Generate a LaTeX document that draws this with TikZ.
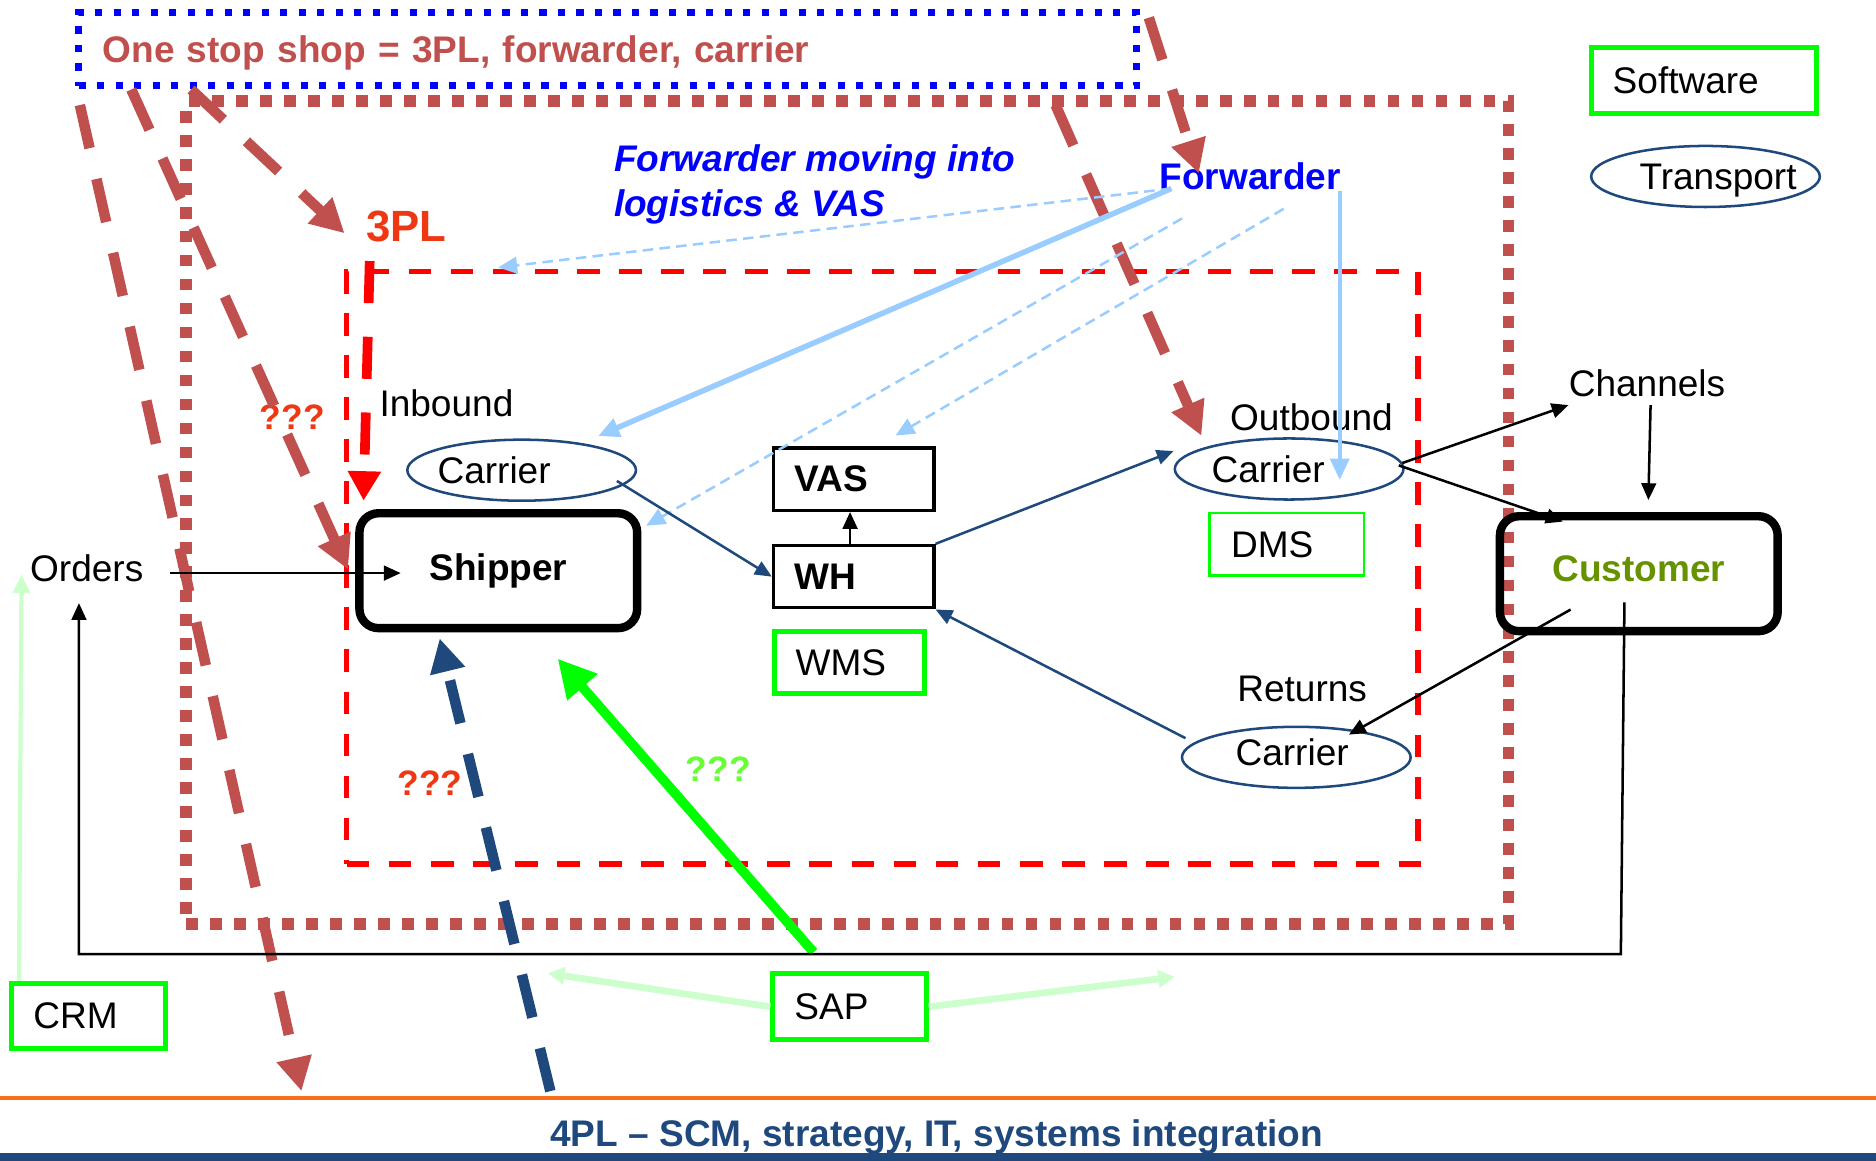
\documentclass[tikz,border=0pt]{standalone}
\usepackage{fontspec}
\setmainfont{Liberation Sans}
\usepackage{tikz}
\usetikzlibrary{positioning,shapes,calc,arrows.meta}
\definecolor{mybrown}{RGB}{192,80,77}
\definecolor{mynavy}{RGB}{31,73,125}
\definecolor{mysky}{RGB}{153,204,255}
\definecolor{mymint}{RGB}{204,255,204}
\definecolor{mylime}{RGB}{0,255,0}
\definecolor{myred}{RGB}{238,56,20}
\definecolor{myolive}{RGB}{102,146,0}
\definecolor{mygreen}{RGB}{102,255,51}
\definecolor{myorange}{RGB}{250,110,25}

\begin{document}
\begin{tikzpicture}[x=0.01cm,y=-0.01cm,
  every node/.style={font=\fontsize{8.8}{10.6}\selectfont,inner sep=1pt},
  swnode/.style={draw=mylime,line width=1.2pt,inner xsep=0.18cm,inner ysep=0pt,align=left},
  whnode/.style={draw,line width=0.8pt,text width=0.98cm,minimum height=0.52cm,inner xsep=0.18cm,inner ysep=0pt,font=\fontsize{8.8}{10.6}\selectfont\bfseries},
  trnode/.style={ellipse,draw=mynavy,line width=0.6pt,minimum width=1.91cm,minimum height=0.51cm,inner sep=0pt},
  ptnode/.style={draw,rounded corners=0.16cm,line width=2pt,minimum width=2.32cm,minimum height=0.96cm,font=\fontsize{8.8}{10.6}\selectfont\bfseries},
  qnode/.style={anchor=west,text=myred,font=\fontsize{8.4}{10}\selectfont\bfseries},
  bigdash/.style={line width=2.5pt,dash pattern=on 10.5pt off 7.5pt,-{Triangle[length=8pt,width=8pt]}},
  flow/.style={mynavy,line width=0.6pt,-{Triangle[length=4pt,width=3.5pt]}},
  link/.style={line width=0.6pt,-{Triangle[length=4pt,width=3.5pt]}},
  skyline/.style={mysky,-{Triangle[length=5pt,width=4.5pt]}},
  skydash/.style={mysky,line width=0.6pt,dash pattern=on 2.5pt off 1.5pt,-{Triangle[length=4.5pt,width=4pt]}}
]
\useasboundingbox (0,0) rectangle (1568,970);

% the zones
\node[draw=blue,line width=1.7pt,dash pattern=on 1.7pt off 2.7pt,minimum width=8.84cm,minimum height=0.61cm,
  text width=8.44cm,inner xsep=0.2cm,inner ysep=0pt,align=left,text=mybrown,text depth=0pt,
  font=\fontsize{8.8}{10.6}\selectfont\bfseries] (oss) at (508,41.3) {One stop shop = 3PL, forwarder, carrier};
\node[draw=mybrown,line width=2.8pt,dash pattern=on 2.8pt off 2.9pt,minimum width=11.045cm,minimum height=6.875cm,inner sep=0pt] (fzone) at (708.25,428.25) {};
\node[draw=red,line width=1.3pt,dash pattern=on 5.4pt off 4.6pt,minimum width=8.95cm,minimum height=4.95cm,inner sep=0pt] (tzone) at (737.5,474.5) {};

% the legend
\node[swnode,text width=1.52cm,minimum height=0.55cm] (sw) at (1424,67.5) {Software};
\node[trnode,label={[xshift=0.105cm,text depth=0pt]center:Transport}] (tr) at (1425.5,147.5) {};

% the parties
\node[ptnode] (shipper) at (416.5,477) {Shipper};
\node[ptnode,text=myolive,text depth=2.6pt] (customer) at (1369.75,479.5) {Customer};

% the carriers
\node[trnode,label={[xshift=-0.23cm]center:Carrier}] (incar) at (436,393) {};
\node[trnode,label={[xshift=-0.175cm]center:Carrier}] (outcar) at (1077.5,392) {};
\node[trnode,label={[xshift=-0.035cm,yshift=0.04cm]center:Carrier}] (retcar) at (1083.5,633) {};

% the warehouse and software
\node[whnode] (vas) at (713.5,400.5) {VAS};
\node[whnode] (wh) at (713.5,482) {WH};
\node[swnode,text width=0.9cm,minimum height=0.52cm] (wms) at (710,554) {WMS};
\node[swnode,line width=0.5pt,text width=0.93cm,minimum height=0.52cm] (dms) at (1075.5,455) {DMS};
\node[swnode,text width=0.92cm,minimum height=0.54cm] (crm) at (74,849) {CRM};
\node[swnode,text width=0.92cm,minimum height=0.55cm] (sap) at (710,841.5) {SAP};

% the labels
\node[anchor=west] (orders) at (21,475) {Orders};
\node[anchor=west] (inb) at (313,337) {Inbound};
\node[anchor=west] (outb) at (1024,349) {Outbound};
\node[anchor=west] (ret) at (1030,576) {Returns};
\node[anchor=west] (channels) at (1307,320) {Channels};
\node[anchor=west,text=blue,font=\fontsize{8.8}{10.6}\selectfont\bfseries] (fwd) at (965,147) {Forwarder};
\node[anchor=west,text=myred,font=\fontsize{10.4}{12}\selectfont\bfseries] (tpl) at (302,189) {3PL};
\node[anchor=west,align=left,text=blue,font=\fontsize{8.8}{10.8}\selectfont\bfseries\itshape] (fwdnote) at (509,154) {Forwarder moving into\\logistics \& VAS};
\node[qnode] (qa) at (213,349) {???};
\node[qnode] (qb) at (328,655) {???};
\node[qnode,text=mygreen] (qc) at (569,643) {???};
\node[text=mynavy,text depth=0pt,font=\fontsize{8.8}{10.6}\selectfont\bfseries] (fourpl) at (783,947) {4PL -- SCM, strategy, IT, systems integration};

% the ends at the 4PL line
\coordinate (fourplA) at (252,912);
\coordinate (fourplB) at (460,912);

% the one stop shop arrows
\draw[bigdash,mybrown] ($(oss.south west)+(4,13)$) -- (fourplA);
\draw[bigdash,mybrown] ($(oss.south west)+(47,0)$) -- ($(shipper.west)+(-6,-1)$);
\draw[bigdash,mybrown] ($(oss.south west)+(97,0)$) -- ($(tpl.west)+(-14,6)$);
\draw[bigdash,mybrown] ($(oss.north east)+(7,7)$) -- ($(fwd.west)+(37,-2)$);
\draw[bigdash,mybrown] ($(oss.south east)+(-71,13)$) -- ($(outcar.north west)+(-5,-9)$);
\draw[red,line width=2.3pt,dash pattern=on 10pt off 8pt,-{Triangle[length=7pt,width=7.5pt]}] ($(tpl.south west)+(7,12)$) -- ($(shipper.north west)+(7,-7)$);
\draw[bigdash,mynavy] (fourplB) -- ($(shipper.south)+(-49,5)$);

% the software arrows
\draw[mylime,line width=2.3pt,-{Triangle[length=9pt,width=9pt]}] ($(sap.north)+(-30,-16)$) -- ($(shipper.south east)+(-70,22)$);
\draw[mymint,line width=1.6pt,-{Triangle[length=4pt,width=4pt]}] (sap.west) -- ($(sap.west)+(-186,-28)$);
\draw[mymint,line width=1.6pt,-{Triangle[length=4pt,width=4pt]}] (sap.east) -- ($(sap.east)+(206,-25)$);
\draw[mymint,line width=1pt,-{Triangle[length=4.5pt,width=4pt]}] ($(crm.north west)+(8,0)$) -- ($(orders.west)+(-3,5)$);

% the forwarder arrows
\draw[skyline,line width=1.3pt] ($(fwd.south west)+(14,-5)$) -- ($(incar.north)+(64,-2)$);
\draw[skydash] ($(fwd.south west)+(14,-5)$) -- ($(tzone.north west)+(129,-1)$);
\draw[skydash] ($(fwd.south west)+(23,20)$) -- ($(shipper.north east)+(4,14)$);
\draw[skydash] ($(fwd.south)+(28,12)$) -- ($(vas.north)+(35,-9)$);
\draw[skyline,line width=0.9pt] ($(fwd.south east)+(-5,-3)$) coordinate (fv) -- ($(fv |- outcar.center)+(0,9)$);

% the flows
\draw[flow] ($(incar.east)+(-17,9)$) -- (wh.west);
\draw[flow] (wh.north east) -- ($(outcar.west)+(0,-15)$);
\draw[flow] ($(retcar.west)+(4,-16)$) -- (wh.south east);
\draw[link] ($(wh.north)+(-3,0)$) -- ($(vas.south)+(-3,0)$);
\draw[link] ($(orders.east)+(18,4)$) -- ($(shipper.west)+(38,2)$);
\draw[link] ($(outcar.east)+(-2,-5)$) -- ($(channels.south west)+(4,3)$);
\draw[link] ($(outcar.east)+(-5,-3)$) -- ($(customer.north west)+(56,8)$);
\draw[link] ($(channels.south)+(3,3)$) -- ($(customer.north)+(8,-10)$);
\draw[link] ($(customer.center)+(-57,30)$) -- ($(retcar.center)+(44,-19)$);
\draw[link] ($(customer.center)+(-12,24)$) -- ++(-3,294) -| ($(orders.south)+(-6.5,13.5)$);

% the 4PL band
\draw[myorange,line width=1pt] (0,918) -- (1568,918);
\fill[mynavy] (0,964) rectangle (1568,970);
\end{tikzpicture}
\end{document}
